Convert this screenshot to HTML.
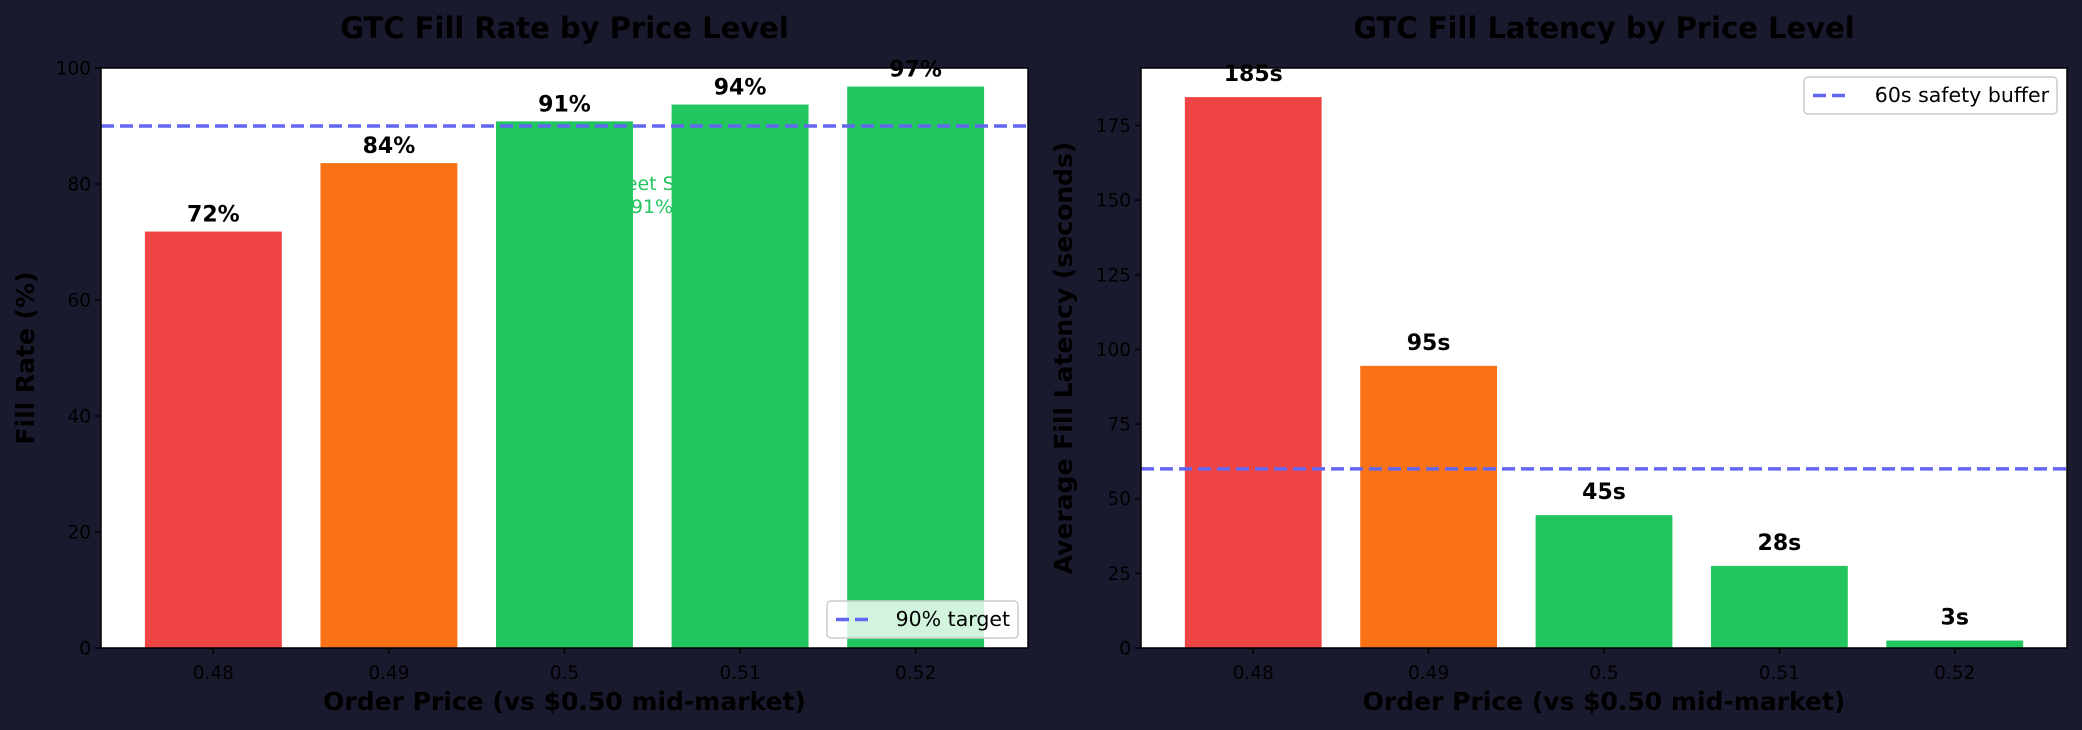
<!DOCTYPE html>
<html><head><meta charset="utf-8"><style>
body{margin:0;background:#1a1a2e;width:2082px;height:730px;overflow:hidden}
svg{display:block;font-family:"DejaVu Sans","Liberation Sans",sans-serif}
</style></head><body>
<svg id="chart" width="2082" height="730" viewBox="0 0 2082 730"></svg>
<script>
const categories = ["0.48","0.49","0.5","0.51","0.52"];
const fillRates = [71.8, 83.6, 90.8, 93.7, 96.8];
const fillRateLabels = ["72%","84%","91%","94%","97%"];
const latencies = [184.5, 94.5, 44.5, 27.5, 2.5];
const latencyLabels = ["185s","95s","45s","28s","3s"];
const barColors = ["#ef4444","#f97316","#22c55e","#22c55e","#22c55e"];
const leftTicks = [0,20,40,60,80,100];
const rightTicks = [0,25,50,75,100,125,150,175];
const targetRate = [90];
const safetyBuffer = [60];

const NS="http://www.w3.org/2000/svg";
const svg=document.getElementById('chart');
function mk(tag,attrs,parent,text){const e=document.createElementNS(NS,tag);for(const k in attrs)e.setAttribute(k,attrs[k]);if(text!==undefined)e.textContent=text;(parent||svg).appendChild(e);return e;}

function panel(o){
  const g=mk('g',{});
  
  
  const X0=o.x0,X1=o.x1,Y0=68,Y1=648;
  const xs=i=>X0+(i+0.64)/5.28*(X1-X0);
  const ys=v=>Y1-v/o.ymax*(Y1-Y0);
  const bw=0.78/5.28*(X1-X0);
  mk('rect',{x:X0,y:Y0,width:X1-X0,height:Y1-Y0,fill:'#fff'},g);
  if(o.behind){
    const t=mk('text',{x:o.behind.x,y:190,'font-size':19,fill:'#22c55e','text-anchor':'middle'},g,'Sweet Spot');
    
    
    mk('text',{x:o.behind.x,y:213,'font-size':19,fill:'#22c55e','text-anchor':'middle'},g,'91%');
  }
  o.values.forEach((v,i)=>{
    const r=mk('rect',{x:xs(i)-bw/2,y:ys(v),width:bw,height:Y1-ys(v),fill:barColors[i]},g);
    
    
    const t=mk('text',{x:xs(i),y:ys(v)-o.labOff,'font-size':22,'font-weight':'bold','text-anchor':'middle',fill:'#000'},g,o.labels[i]);
    
    
  });
  const ref=mk('line',{x1:X0,x2:X1,y1:ys(o.ref),y2:ys(o.ref),stroke:'#6366f1','stroke-width':3.5,'stroke-dasharray':'13,6'},g);
  
  
  mk('rect',{x:X0,y:Y0,width:X1-X0,height:Y1-Y0,fill:'none',stroke:'#000','stroke-width':1.5},g);
  o.ticks.forEach(t=>{
    mk('line',{x1:X0-6,x2:X0,y1:ys(t),y2:ys(t),stroke:'#000','stroke-width':1.3},g);
    const l=mk('text',{x:X0-10,y:ys(t)+6.5,'font-size':18.5,'text-anchor':'end',fill:'#000'},g,String(t));
    
    
  });
  categories.forEach((c,i)=>{
    mk('line',{x1:xs(i),x2:xs(i),y1:Y1,y2:Y1+6,stroke:'#000','stroke-width':1.3},g);
    const l=mk('text',{x:xs(i),y:679,'font-size':18.5,'text-anchor':'middle',fill:'#000'},g,c);
    
    
  });
  const tt=mk('text',{x:(X0+X1)/2,y:38,'font-size':29,'font-weight':'bold','text-anchor':'middle',fill:'#000'},g,o.title);
  
  
  const xl=mk('text',{x:(X0+X1)/2,y:710,'font-size':25,'font-weight':'bold','text-anchor':'middle',fill:'#000'},g,'Order Price (vs $0.50 mid-market)');
  
  
  const yl=mk('text',{x:0,y:0,'font-size':25,'font-weight':'bold','text-anchor':'middle',fill:'#000',transform:`translate(${o.ylx},${(Y0+Y1)/2}) rotate(-90)`},g,o.ylabel);
  
  
  const L=o.legend;
  const lg=mk('g',{},g);
  
  
  mk('rect',{x:L.x,y:L.y,width:L.w,height:37,rx:4,fill:'rgba(255,255,255,0.8)',stroke:'#ccc','stroke-width':1.5},lg);
  mk('line',{x1:L.x+9,x2:L.x+45,y1:L.y+18.5,y2:L.y+18.5,stroke:'#6366f1','stroke-width':3.5,'stroke-dasharray':'13,6'},lg);
  mk('text',{x:L.x+L.w-8,y:L.y+25,'font-size':20.5,'text-anchor':'end',fill:'#000'},lg,L.text);
}
panel({name:'fill-rate-panel',x0:101,x1:1028,ymax:100,values:fillRates,labels:fillRateLabels,labOff:10,ref:targetRate[0],ticks:leftTicks,
  title:'GTC Fill Rate by Price Level',ylabel:'Fill Rate (%)',ylx:34,behind:{x:652},
  legend:{x:827,y:601,w:191,text:'90% target'}});
panel({name:'fill-latency-panel',x0:1141,x1:2067,ymax:194.25,values:latencies,labels:latencyLabels,labOff:16,ref:safetyBuffer[0],ticks:rightTicks,
  title:'GTC Fill Latency by Price Level',ylabel:'Average Fill Latency (seconds)',ylx:1072,
  legend:{x:1804,y:77,w:253,text:'60s safety buffer'}});
</script>
</body></html>
